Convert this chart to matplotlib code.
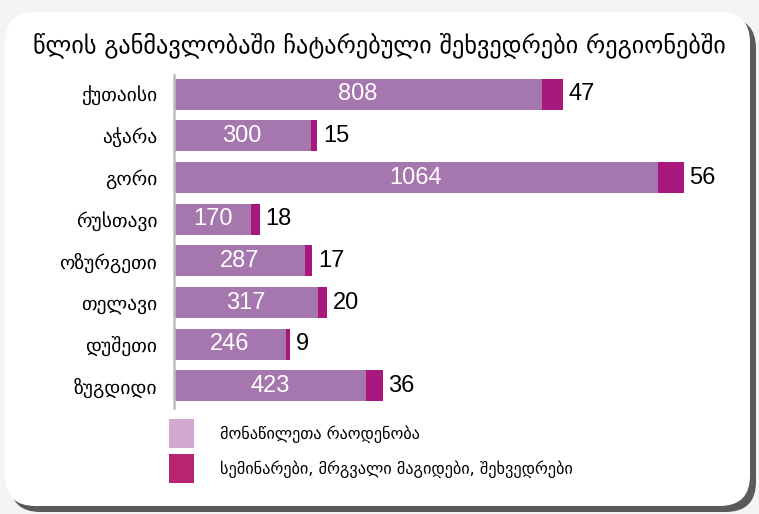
"""
Meetings held in regions during the year - stacked horizontal bars
"""

import matplotlib
matplotlib.use("Agg")
import matplotlib.pyplot as plt
from matplotlib.patches import FancyBboxPatch, Rectangle

# ===============================
# DATA
# ===============================

regions = ["ქუთაისი", "აჭარა", "გორი", "რუსთავი",
           "ოზურგეთი", "თელავი", "დუშეთი", "ზუგდიდი"]
participants = [808, 300, 1064, 170, 287, 317, 246, 423]
meetings = [47, 15, 56, 18, 17, 20, 9, 36]

title = "წლის განმავლობაში ჩატარებული შეხვედრები რეგიონებში"
legend_labels = ["მონაწილეთა რაოდენობა",
                 "სემინარები, მრგვალი მაგიდები, შეხვედრები"]

BAR_MAIN = "#a676ae"
BAR_ACCENT = "#a8177e"
LEG_MAIN = "#d3a9d3"
LEG_ACCENT = "#b8246f"

W, H = 759, 514

# ===============================
# FIGURE + BACKGROUND CARD
# ===============================

fig = plt.figure(figsize=(W / 100, H / 100), dpi=100)
fig.patch.set_facecolor("#f4f4f4")

shadow = FancyBboxPatch((10 / W, 2 / H), 746 / W, 494 / H,
                        boxstyle="round,pad=0,rounding_size=0.04",
                        transform=fig.transFigure, facecolor="#5a5a5a",
                        edgecolor="none", zorder=0, mutation_aspect=W / H)
card = FancyBboxPatch((5 / W, 8 / H), 745 / W, 494 / H,
                      boxstyle="round,pad=0,rounding_size=0.04",
                      transform=fig.transFigure, facecolor="white",
                      edgecolor="none", zorder=1, mutation_aspect=W / H)
fig.patches.extend([shadow, card])

# ===============================
# BARS
# ===============================

ax = fig.add_axes([174 / W, 106 / H, 546 / W, 333 / H])
ax.set_zorder(2)
ax.patch.set_alpha(0)

ypos = list(range(len(regions)))
ax.barh(ypos, participants, height=0.74, color=BAR_MAIN)
ax.barh(ypos, meetings, left=participants, height=0.74, color=BAR_ACCENT)

for y, p, m in zip(ypos, participants, meetings):
    ax.text(p / 2, y, str(p), ha="center", va="center", color="white",
            fontsize=17, family="Liberation Sans")
    ax.text(p + m + 12, y, str(m), ha="left", va="center", color="black",
            fontsize=17, family="Liberation Sans")

ax.set_xlim(0, 1200)
ax.set_ylim(7.53, -0.46)
ax.set_yticks(ypos)
ax.set_yticklabels(regions, fontsize=14, family="DejaVu Sans")
ax.tick_params(axis="y", length=0, pad=12)
ax.set_xticks([])
for side in ["top", "right", "bottom"]:
    ax.spines[side].set_visible(False)
ax.spines["left"].set_color("#bdbdbd")
ax.spines["left"].set_linewidth(1.8)

# ===============================
# TITLE + LEGEND
# ===============================

fig.text(379 / W, 1 - 45 / H, title, ha="center", va="center",
         fontsize=17.5, family="DejaVu Sans", zorder=3)

for i, (lab, col) in enumerate(zip(legend_labels, [LEG_MAIN, LEG_ACCENT])):
    top = 419 + i * 35
    fig.patches.append(Rectangle((169 / W, 1 - (top + 29) / H), 25 / W, 29 / H,
                                 transform=fig.transFigure, facecolor=col,
                                 edgecolor="none", zorder=3))
    fig.text(220 / W, 1 - (top + 15) / H, lab, ha="left", va="center",
             fontsize=11.7, family="DejaVu Sans", zorder=3)

plt.savefig("out.png", dpi=100, facecolor=fig.get_facecolor())
